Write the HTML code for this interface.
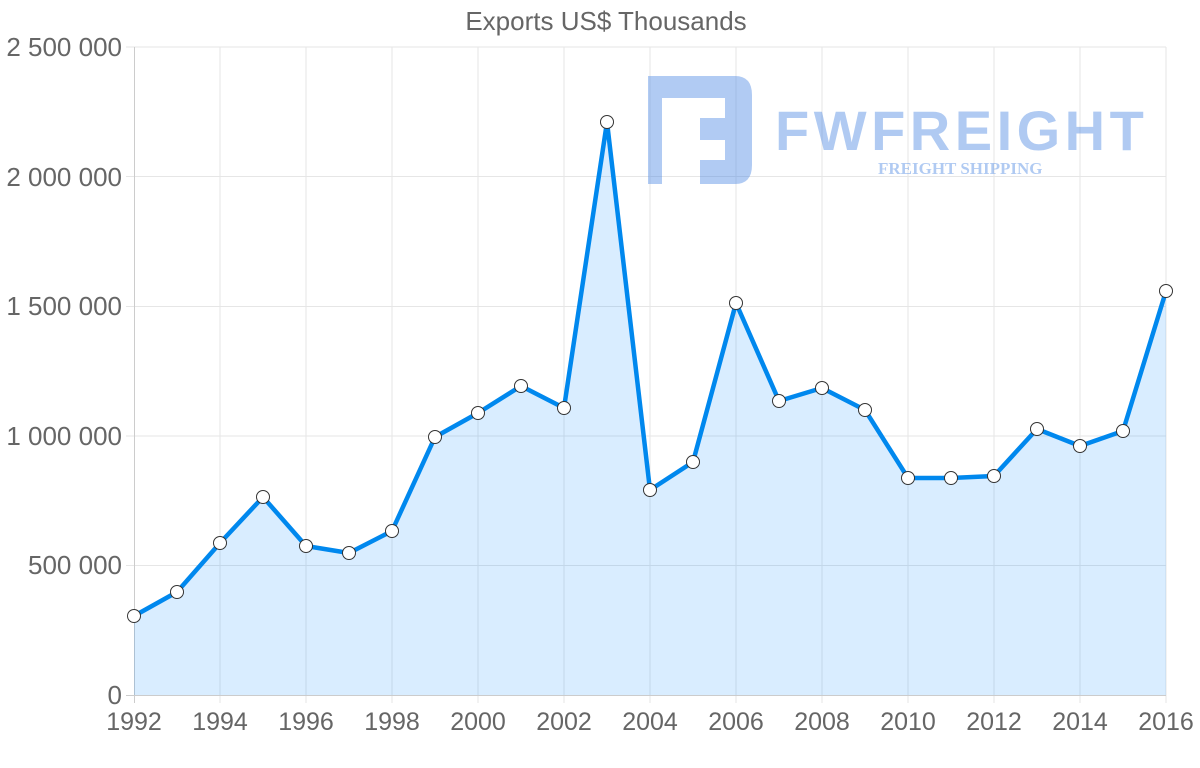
<!DOCTYPE html>
<html><head><style>body{margin:0;background:#fff}</style></head><body>
<svg width="1200" height="763" xmlns="http://www.w3.org/2000/svg" font-family="Liberation Sans, sans-serif">
<rect width="1200" height="763" fill="#fff"/>
<text x="606" y="30" text-anchor="middle" font-size="26" fill="#666">Exports US$ Thousands</text>
<g stroke="#e6e6e6" stroke-width="1">
<line x1="126" y1="47" x2="1166" y2="47"/><line x1="126" y1="176.5" x2="1166" y2="176.5"/><line x1="126" y1="306.5" x2="1166" y2="306.5"/><line x1="126" y1="436" x2="1166" y2="436"/><line x1="126" y1="565.5" x2="1166" y2="565.5"/>
<line x1="220" y1="47" x2="220" y2="703"/><line x1="306" y1="47" x2="306" y2="703"/><line x1="392" y1="47" x2="392" y2="703"/><line x1="478" y1="47" x2="478" y2="703"/><line x1="564" y1="47" x2="564" y2="703"/><line x1="650" y1="47" x2="650" y2="703"/><line x1="736" y1="47" x2="736" y2="703"/><line x1="822" y1="47" x2="822" y2="703"/><line x1="908" y1="47" x2="908" y2="703"/><line x1="994" y1="47" x2="994" y2="703"/><line x1="1080" y1="47" x2="1080" y2="703"/><line x1="1166" y1="47" x2="1166" y2="703"/>
</g>
<line x1="134.5" y1="47" x2="134.5" y2="703" stroke="#ccc"/>
<line x1="126" y1="695.5" x2="1166" y2="695.5" stroke="#ccc"/>
<g opacity="0.4" fill="#3b7de0">
<path d="M648 76 H735 Q752 76 752 95 V165 Q752 184 735 184 H700 V160 H725 V140 H700 V118 H725 V98 H662 V184 H648 Z"/>
<text x="775" y="150" font-size="56" font-weight="bold" letter-spacing="4.5">FWFREIGHT</text>
<text x="878" y="174" font-size="17" font-weight="bold" font-family="Liberation Serif, serif">FREIGHT SHIPPING</text>
</g>
<polygon fill="#0088ff" fill-opacity="0.15" points="134,695 134,616 177,592 220,543 263,497 306,546 349,553 392,531 435,437 478,413 521,386 564,408 607,122 650,490 693,462 736,303 779,401 822,388 865,410 908,478 951,478 994,476 1037,429 1080,446 1123,431 1166,291 1166,695"/>
<polyline fill="none" stroke="#0088ee" stroke-width="4.5" stroke-linejoin="round" points="134,616 177,592 220,543 263,497 306,546 349,553 392,531 435,437 478,413 521,386 564,408 607,122 650,490 693,462 736,303 779,401 822,388 865,410 908,478 951,478 994,476 1037,429 1080,446 1123,431 1166,291"/>
<g fill="#fff" stroke="#333" stroke-width="1">
<circle cx="134" cy="616" r="6.5"/><circle cx="177" cy="592" r="6.5"/><circle cx="220" cy="543" r="6.5"/><circle cx="263" cy="497" r="6.5"/><circle cx="306" cy="546" r="6.5"/><circle cx="349" cy="553" r="6.5"/><circle cx="392" cy="531" r="6.5"/><circle cx="435" cy="437" r="6.5"/><circle cx="478" cy="413" r="6.5"/><circle cx="521" cy="386" r="6.5"/><circle cx="564" cy="408" r="6.5"/><circle cx="607" cy="122" r="6.5"/><circle cx="650" cy="490" r="6.5"/><circle cx="693" cy="462" r="6.5"/><circle cx="736" cy="303" r="6.5"/><circle cx="779" cy="401" r="6.5"/><circle cx="822" cy="388" r="6.5"/><circle cx="865" cy="410" r="6.5"/><circle cx="908" cy="478" r="6.5"/><circle cx="951" cy="478" r="6.5"/><circle cx="994" cy="476" r="6.5"/><circle cx="1037" cy="429" r="6.5"/><circle cx="1080" cy="446" r="6.5"/><circle cx="1123" cy="431" r="6.5"/><circle cx="1166" cy="291" r="6.5"/>
</g>
<g font-size="26" fill="#666" text-anchor="end">
<text x="122" y="56">2 500 000</text><text x="122" y="186">2 000 000</text><text x="122" y="315">1 500 000</text><text x="122" y="445">1 000 000</text><text x="122" y="574">500 000</text><text x="122" y="704">0</text>
</g>
<g font-size="25" fill="#666" text-anchor="middle">
<text x="134" y="730">1992</text><text x="220" y="730">1994</text><text x="306" y="730">1996</text><text x="392" y="730">1998</text><text x="478" y="730">2000</text><text x="564" y="730">2002</text><text x="650" y="730">2004</text><text x="736" y="730">2006</text><text x="822" y="730">2008</text><text x="908" y="730">2010</text><text x="994" y="730">2012</text><text x="1080" y="730">2014</text><text x="1166" y="730">2016</text>
</g>
</svg>
</body></html>
